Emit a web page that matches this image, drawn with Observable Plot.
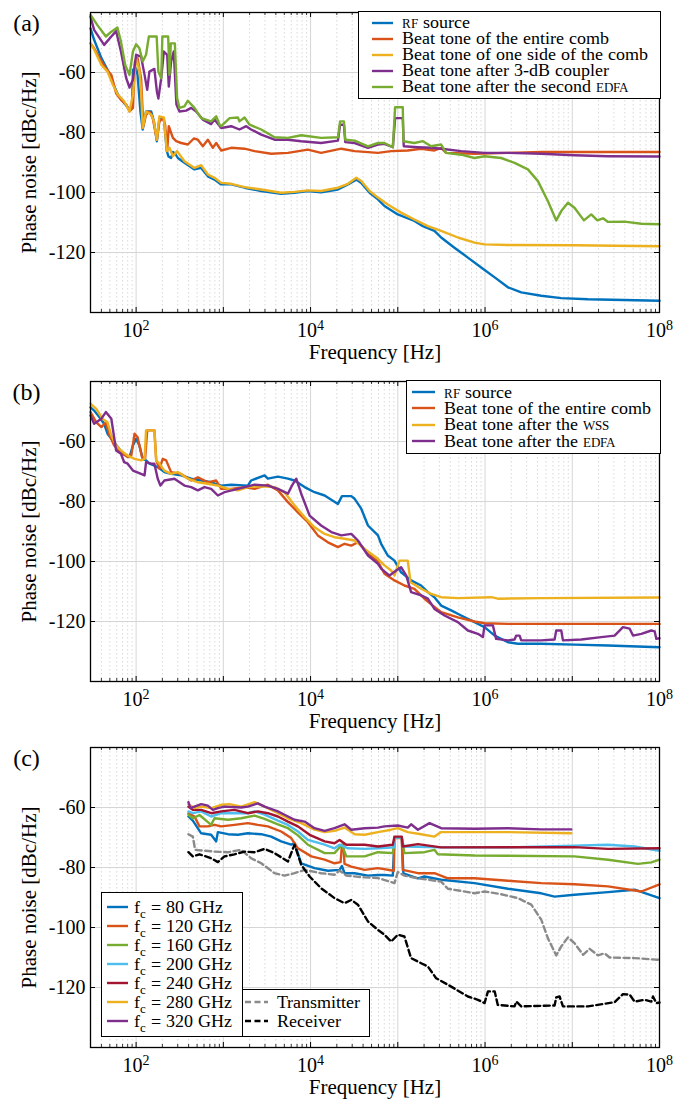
<!DOCTYPE html>
<html><head><meta charset="utf-8">
<script src="https://cdn.jsdelivr.net/npm/d3@7"></script>
<script src="https://cdn.jsdelivr.net/npm/@observablehq/plot@0.6"></script>
<style>
@font-face{font-family:"TightSerif";src:local("Liberation Serif"),local("LiberationSerif");ascent-override:72%;descent-override:16%;line-gap-override:0%;}
body{margin:0;background:#fff;}
#root{position:relative;width:693px;height:1100px;background:#fff;font-family:"Liberation Serif","Times New Roman",serif;overflow:hidden;}
.panel{position:absolute;left:0;}
.legend{position:absolute;background:#fff;border:1.2px solid #000;box-sizing:border-box;}
.lrow{position:absolute;white-space:nowrap;font-size:18px;line-height:15px;color:#000;font-family:"TightSerif","Liberation Serif","Times New Roman",serif;}
.sc{font-variant:small-caps;}
.sub{font-size:13px;position:relative;top:5px;}
</style></head><body><div id="root"></div>
<script>
// ---------- axis / tick values ----------
const X_DOMAIN = [30, 1e8];
const Y_DOMAIN = [-140, -40];
const X_TICKS = [1e2, 1e4, 1e6, 1e8];
const Y_TICKS = [-120, -100, -80, -60];
const FONT = "'Liberation Serif', 'Times New Roman', serif";

// ---------- colors ----------
const C_BLUE = "#0072BD", C_ORANGE = "#D95319", C_YELLOW = "#EDB120", C_PURPLE = "#7E2F8E",
      C_GREEN = "#77AC30", C_CYAN = "#4DBEEE", C_DRED = "#A2142F", C_GRAY = "#8a8a8a", C_BLACK = "#000000";

// ---------- panel (a) data: [frequency Hz, phase noise dBc/Hz] ----------
const aRF = [[30,-45.3],[33,-49.1],[40,-55.2],[47,-59.1],[54,-63.5],[62,-67.4],[73,-70.2],[84,-72.4],[90,-71.8],[92,-59.1],[100,-58.6],[104,-60.8],[112,-73],[119,-79],[130,-73],[149,-73],[160,-76.3],[173,-82.9],[185,-75.2],[208,-75.2],[225,-86.2],[235,-88],[252,-88.5],[264,-86.5],[280,-87],[301,-88.5],[358,-90.1],[467,-92.3],[557,-91.8],[664,-94.6],[792,-95.7],[945,-97.3],[1230,-97.3],[1750,-98.4],[2720,-99.5],[4600,-100.4],[6550,-100.1],[9310,-99.5],[13200,-99.9],[20600,-99],[26800,-97.3],[33400,-95.7],[38100,-96.8],[47500,-100.1],[59200,-102.3],[70300,-104.5],[1e5,-107.3],[155000,-109.5],[194000,-111.2],[263000,-112.8],[314000,-115],[446000,-118.4],[636000,-121.7],[904000,-125],[1.29e6,-128.3],[1.83e6,-131.6],[2.6e6,-133.3],[4.41e6,-134.4],[7.48e6,-135.2],[1.51e7,-135.6],[1e8,-136.1]];
const aEntire = [[30,-50.3],[33,-51.9],[38,-55.2],[45,-58.6],[52,-60.8],[59,-66.9],[67,-69.1],[77,-70.7],[84,-73],[92,-71.8],[97,-56.3],[104,-55.2],[114,-61.9],[121,-77.9],[130,-74.1],[142,-73],[155,-75.2],[173,-82.4],[185,-76.3],[202,-75.2],[215,-77.4],[227,-86.2],[237,-77.9],[264,-81.8],[288,-82.9],[328,-83.5],[392,-84],[459,-82],[510,-82.4],[582,-84.6],[664,-82.4],[758,-85.1],[828,-83.5],[945,-86],[1230,-85.1],[1750,-85.4],[2280,-86.2],[3540,-87.1],[5500,-86.8],[9310,-85.7],[13200,-86.8],[22500,-85.4],[32000,-86.2],[59200,-86.8],[83900,-86.2],[130000,-86],[185000,-85.4],[263000,-86],[314000,-85.1],[358000,-86.8],[758000,-87.1],[1.83e6,-86.8],[4.41e6,-86.5],[1e8,-86.5]];
const aOneSide = [[30,-50.3],[33,-52.3],[40,-57.5],[47,-59.7],[54,-64],[62,-67.4],[73,-69.6],[84,-73],[92,-67.4],[100,-55.2],[109,-59],[114,-66],[119,-78.5],[130,-73],[149,-74],[160,-76.3],[173,-82.4],[185,-74.6],[208,-75],[225,-86.2],[241,-85.1],[264,-87.9],[295,-86.2],[358,-89.6],[467,-91.8],[557,-90.9],[664,-94],[792,-95.1],[945,-96.8],[1230,-97.1],[1750,-98.2],[2720,-99],[4600,-100.1],[6550,-99.8],[9310,-99.3],[13200,-99.5],[20600,-98.4],[26800,-97.1],[33400,-95.1],[38100,-96.2],[47500,-99.5],[59200,-101.7],[76700,-104],[109000,-106.7],[155000,-109],[221000,-111.2],[314000,-112.8],[488000,-115],[758000,-116.7],[987000,-117.3],[1.83e6,-117.5],[1.06e7,-117.6],[1e8,-117.9]];
const aCoupler = [[30,-41.4],[33,-45.8],[43,-50.8],[52,-48],[59,-46.2],[67,-53],[77,-61.9],[84,-65],[92,-62.4],[100,-54.1],[114,-54.7],[125,-60.8],[134,-65.8],[142,-59.7],[162,-58.8],[173,-66.3],[180,-68.7],[194,-61.9],[208,-53],[227,-54.1],[237,-64.7],[252,-56.3],[270,-53],[290,-70.7],[314,-73],[375,-72.7],[428,-71.8],[488,-73],[582,-75.7],[725,-77.2],[792,-75.7],[945,-78.5],[1230,-77.9],[1530,-79],[1830,-77.9],[2080,-79],[2720,-80.7],[3860,-82.4],[5500,-82.4],[7810,-82.9],[13200,-83.5],[20600,-82.7],[21800,-77.4],[24100,-77.4],[25000,-83.2],[32000,-83.5],[45500,-85.1],[59200,-84],[70300,-83.8],[87700,-84.9],[93200,-75.2],[114000,-75.2],[117000,-84.6],[170000,-84.9],[241000,-85.1],[314000,-85.4],[533000,-86.2],[987000,-86.8],[1.83e6,-86.8],[4.41e6,-87.1],[1.06e7,-87.6],[2.57e7,-87.9],[1e8,-88]];
const aSecondEdfa = [[30,-40.8],[36,-44.2],[45,-48],[52,-46.4],[61,-45],[67,-49.7],[75,-57.5],[84,-60.8],[92,-53],[100,-50.6],[109,-51.9],[119,-56.3],[130,-54.1],[140,-48],[172,-48],[180,-59.7],[194,-61.9],[200,-48],[233,-48],[241,-60.8],[250,-50.3],[278,-50.3],[295,-68.5],[314,-71.8],[358,-71.3],[392,-69.4],[467,-71.8],[557,-75.2],[725,-76.3],[828,-74.6],[904,-77.4],[945,-77.9],[1180,-75.2],[1470,-75],[1530,-76.3],[1750,-75],[2000,-77.4],[2720,-79],[3860,-81.6],[5500,-81.8],[7810,-80.9],[13200,-81.8],[20600,-81.6],[21800,-76.3],[24100,-76.3],[25000,-82.4],[32000,-82.7],[45500,-84.6],[59200,-83.5],[70300,-83.5],[87700,-84.9],[93200,-71.6],[114000,-71.6],[116000,-82.9],[155000,-83.5],[194000,-82.9],[241000,-84.6],[314000,-84],[358000,-86.8],[533000,-87.4],[758000,-88.5],[987000,-87.9],[1.53e6,-88.5],[2.18e6,-90.1],[3.1e6,-92.3],[4.04e6,-96.2],[5.26e6,-102.9],[6.55e6,-109.3],[7.48e6,-106.2],[8.92e6,-103.4],[1.06e7,-105.1],[1.36e7,-109.3],[1.65e7,-107.3],[1.94e7,-109.3],[2.25e7,-108.6],[2.57e7,-109.8],[3.98e7,-109.7],[6.19e7,-110.4],[1e8,-110.6]];

// ---------- panel (b) data ----------
const bRF = [[30,-48.6],[33,-49.7],[38,-51.9],[43,-54.1],[47,-57.4],[54,-59.7],[62,-61.9],[70,-64.1],[84,-65.2],[92,-61.3],[100,-59.1],[109,-61.3],[119,-65.8],[130,-66.3],[142,-67.4],[162,-68],[185,-68.9],[211,-70.2],[252,-70.8],[328,-71.3],[428,-72.4],[557,-73],[725,-73.6],[945,-74.7],[1230,-74.4],[1910,-74.7],[2080,-73],[2970,-71.3],[3240,-72.4],[4220,-71.7],[5500,-72.4],[6550,-73],[8540,-75.2],[11100,-76.9],[14500,-78],[20600,-80.8],[22900,-78.2],[29300,-78.2],[32000,-79.1],[38100,-82.4],[45500,-88],[59200,-91.3],[64400,-94.1],[76700,-98],[91600,-99.7],[109000,-103.6],[142000,-106.3],[185000,-108],[221000,-110.2],[263000,-111.9],[314000,-114.7],[409000,-116.3],[533000,-118],[758000,-120.2],[987000,-121.9],[1.29e6,-124.7],[1.83e6,-126.9],[2.38e6,-127.4],[4.41e6,-127.4],[1.06e7,-127.7],[2.57e7,-128],[1e8,-128.6]];
const bEntire = [[30,-50.2],[35,-53.6],[40,-55.2],[45,-53.6],[49,-57.4],[56,-61.3],[67,-63.6],[80,-65.2],[88,-64.7],[96,-57.4],[104,-58.6],[117,-65.2],[127,-65.6],[134,-56.3],[162,-56.3],[170,-66.3],[185,-69.1],[202,-65.8],[221,-66.3],[252,-70.2],[328,-70.8],[428,-73],[510,-71.9],[664,-73.6],[828,-73],[945,-75.8],[1230,-75.8],[1750,-75.2],[2280,-75.8],[3240,-74.4],[4220,-76.3],[5500,-80.2],[7160,-83.6],[9310,-86.9],[12100,-91.3],[15800,-93.6],[20600,-95.2],[24500,-94.1],[29300,-94.7],[34900,-93.6],[45500,-97.4],[59200,-100],[70300,-104.1],[91600,-106.3],[119000,-108],[155000,-109.1],[202000,-112.4],[252000,-114.7],[314000,-116.9],[488000,-118.6],[758000,-120],[987000,-120.6],[1.83e6,-120.8],[1.06e7,-120.8],[1e8,-120.8]];
const bWss = [[30,-47.4],[35,-49.1],[41,-52.4],[47,-53.6],[52,-58],[59,-61.3],[67,-63],[80,-64.7],[96,-65.8],[114,-66.3],[125,-65.8],[130,-56.3],[162,-56.3],[170,-66.3],[185,-67.4],[211,-69.7],[252,-70.8],[301,-70.2],[392,-72.4],[510,-73.6],[664,-74.1],[865,-74.7],[1130,-75.8],[1470,-76.3],[1910,-75.2],[2720,-74.9],[3860,-75.2],[5030,-76.9],[6550,-81.3],[8540,-85.2],[11100,-88.6],[14500,-90.8],[18800,-91.9],[24500,-92.4],[32000,-93],[41700,-95.8],[59200,-99.1],[70300,-101.3],[83900,-103],[91600,-104.7],[104500,-99.7],[130000,-99.7],[140000,-106.9],[185000,-109.1],[241000,-110.8],[314000,-111.9],[488000,-112.2],[1.18e6,-111.9],[1.4e6,-112.4],[4.41e6,-112.2],[1e8,-112]];
const bEdfa = [[30,-51.3],[33,-54.1],[40,-52.4],[45,-50.2],[52,-52.4],[59,-63],[67,-64.1],[73,-66.9],[80,-67.4],[92,-69.7],[114,-70.8],[125,-71.3],[130,-66.9],[149,-67.4],[162,-67.4],[177,-72.4],[190,-74.7],[211,-73],[275,-72.4],[358,-74.7],[428,-75.2],[510,-76.3],[608,-75.2],[725,-75.8],[865,-78],[1030,-76.9],[1470,-75.8],[2280,-74.4],[3240,-74.7],[4220,-75.8],[5500,-77.4],[6110,-74.7],[6850,-72.4],[7810,-77.4],[9750,-84.7],[13200,-88],[17300,-90.2],[22500,-91.3],[29300,-90.8],[34900,-93],[45500,-98],[59200,-100.8],[64400,-102.4],[80200,-104.7],[95700,-103],[109000,-101.9],[125000,-104.7],[142000,-110.2],[185000,-111.3],[221000,-112.4],[263000,-115.8],[343000,-118],[488000,-120.2],[636000,-123],[828000,-124.1],[945000,-125.2],[987000,-121.3],[1.23e6,-121.3],[1.34e6,-125.8],[1.83e6,-126.3],[2.18e6,-126],[2.28e6,-124.7],[2.49e6,-124.7],[2.6e6,-126.3],[4.41e6,-126.3],[6.27e6,-126],[6.55e6,-123],[7.48e6,-123],[7.82e6,-126.3],[1.27e7,-126],[2.15e7,-125.2],[3.06e7,-124.7],[3.81e7,-121.9],[4.55e7,-122.4],[4.97e7,-124.7],[6.19e7,-124.1],[8.06e7,-123],[8.81e7,-123.3],[9.2e7,-125.8],[1e8,-125.6]];

// ---------- panel (c) data ----------
const c80 = [[398,-63],[447,-64.4],[557,-68.6],[725,-69.1],[828,-71.3],[865,-68.2],[1130,-68.9],[1470,-69.1],[1910,-68.6],[2720,-68.9],[3540,-69.7],[4600,-71.3],[6000,-72.4],[6550,-71.9],[7810,-78.6],[11100,-80.2],[15800,-81.1],[21500,-80.8],[22900,-79.5],[24500,-81.9],[32000,-81.9],[45500,-82.7],[59200,-82.5],[70300,-82.5],[87700,-82.7],[91600,-70],[111000,-70],[116000,-82],[170000,-83.6],[202000,-83],[314000,-84.1],[758000,-85.2],[1.83e6,-87.1],[4.41e6,-88.6],[6.27e6,-89.7],[1.06e7,-89.1],[2.57e7,-88.2],[5.19e7,-87.4],[1e8,-90.2]];
const c120 = [[398,-61.9],[467,-63],[533,-66.3],[664,-66.3],[792,-65.8],[945,-66.3],[1340,-65.8],[1910,-65.2],[2490,-65.8],[3240,-66.3],[4600,-68],[6000,-70.2],[7160,-73.6],[10200,-76.3],[14500,-77.4],[18800,-78.6],[22100,-78.2],[22900,-72.4],[23800,-72.4],[24500,-78.8],[29300,-79.7],[41700,-80.8],[59200,-80.2],[90000,-81.1],[91600,-70.2],[111000,-70.2],[114000,-80.8],[170000,-81.9],[263000,-81.9],[375000,-83.6],[758000,-83.6],[1.83e6,-84.4],[4.41e6,-85.2],[1.06e7,-85.6],[2.57e7,-86.3],[6.19e7,-88],[1e8,-85.6]];
const c160 = [[398,-62.4],[447,-63.6],[533,-62.5],[725,-65.8],[792,-63.6],[1130,-64.1],[1600,-63.6],[2280,-62.7],[2970,-63.8],[4220,-65.6],[5500,-66.9],[7160,-69.3],[9310,-72.4],[14500,-75.2],[18800,-75.2],[22900,-72.4],[25700,-76.3],[41700,-76.3],[59200,-74.9],[87700,-75.2],[91600,-70],[111000,-70],[119000,-75.2],[202000,-74.9],[263000,-74.1],[288000,-75.6],[758000,-76],[1.83e6,-76.1],[1.06e7,-76.3],[2.57e7,-77.4],[5.66e7,-78.8],[8.06e7,-78.3],[1e8,-77.4]];
const c200 = [[398,-61.3],[447,-61.9],[557,-61.3],[725,-63],[945,-61.9],[1340,-61.9],[1910,-61.9],[2280,-61.3],[2970,-62.4],[4220,-64.4],[5500,-65.8],[7160,-68],[9310,-70.8],[14500,-72.4],[18800,-73.6],[21500,-72.4],[26800,-73.6],[41700,-73.8],[59200,-73.6],[91600,-73.3],[93200,-70],[111000,-70],[117000,-73],[314000,-73.3],[1.83e6,-73.3],[1.06e7,-72.7],[2.57e7,-72.4],[5.19e7,-73],[1e8,-74.4]];
const c240 = [[398,-59.7],[447,-60.8],[557,-60.8],[725,-61.9],[945,-61.3],[1340,-60.8],[1910,-61.9],[2490,-61.3],[3240,-61.9],[4220,-63],[5500,-64.7],[7160,-66.3],[9750,-69.1],[14500,-71.3],[18800,-71.9],[21500,-70.8],[25700,-72.4],[41700,-72.4],[59200,-73],[87700,-72.4],[91600,-69.7],[111000,-69.7],[114000,-73],[170000,-72.2],[314000,-73.3],[1.06e7,-73.2],[2.57e7,-73.8],[1e8,-73.6]];
const c280 = [[398,-58.9],[467,-60.2],[557,-59.7],[725,-60.2],[945,-59.1],[1180,-58.9],[1600,-59.7],[2280,-58.2],[2970,-59.7],[3860,-61.3],[5500,-63.6],[7810,-65.2],[11100,-67.4],[14500,-68.2],[18800,-67.8],[24500,-66.7],[32000,-68.9],[41700,-69.1],[59200,-68.2],[83900,-67.4],[1e5,-66.9],[130000,-68.2],[185000,-68.9],[263000,-69.7],[314000,-68.2],[758000,-68.2],[1.83e6,-68.2],[9.75e6,-68.6]];
const c320 = [[398,-58.2],[420,-60.2],[467,-59.7],[557,-58.9],[664,-59.4],[758,-60.8],[865,-60.2],[1030,-59.7],[1600,-60],[1910,-59.7],[2490,-58.6],[2970,-59.7],[4220,-61.3],[5030,-62.4],[6550,-64.1],[8540,-64.7],[11100,-66.9],[14500,-67.8],[18800,-66.9],[24500,-65.6],[29300,-67.4],[41700,-66.9],[59200,-66.7],[70300,-66.3],[1e5,-66],[130000,-66.7],[142000,-65.6],[170000,-67.4],[231000,-65.2],[314000,-66.9],[758000,-67.1],[1.83e6,-66.9],[4.41e6,-67.3],[9.75e6,-67.3]];
const cTransmitter = [[398,-68.9],[447,-69.7],[475,-74.1],[608,-74.4],[792,-74.7],[1130,-74.9],[1600,-74.1],[2080,-76.9],[2720,-78.6],[3860,-81.9],[5030,-82.7],[6550,-81.9],[8540,-80.8],[13200,-81.9],[18800,-82.4],[21500,-81],[25700,-82.7],[41700,-83.3],[59200,-83.5],[91600,-85.2],[1e5,-81.5],[119000,-82.7],[170000,-83.6],[314000,-84.7],[375000,-87.1],[533000,-87.8],[758000,-88.6],[987000,-88],[1.53e6,-88.9],[2.38e6,-90.2],[3.39e6,-92.4],[4.41e6,-97.4],[5.26e6,-103.6],[6.55e6,-109.3],[7.48e6,-106.3],[8.92e6,-103.3],[1.06e7,-105.2],[1.33e7,-109.1],[1.58e7,-107.1],[1.97e7,-109.3],[2.35e7,-108.6],[2.68e7,-110],[5.19e7,-110.2],[1e8,-110.8]];
const cReceiver = [[398,-74.9],[447,-76.3],[533,-75.6],[725,-76.9],[865,-78.2],[1030,-76.3],[1340,-75.6],[1750,-74.7],[2280,-74.9],[2970,-73.8],[3860,-75.2],[5500,-78],[6550,-72.4],[7810,-79.1],[9750,-83],[13200,-86.9],[18800,-90.2],[24500,-91.9],[29300,-90.8],[34900,-92.4],[45500,-98],[59200,-100.8],[70300,-102.4],[83900,-104.7],[1e5,-102.4],[119000,-103],[142000,-110.2],[185000,-111.9],[221000,-113],[275000,-116.9],[409000,-119.7],[636000,-123],[828000,-124.1],[987000,-125.2],[1.08e6,-121.3],[1.29e6,-121.3],[1.4e6,-125.8],[2.18e6,-126.3],[2.28e6,-124.7],[2.6e6,-126.3],[6.27e6,-126],[6.55e6,-123.3],[7.16e6,-123],[7.82e6,-126.3],[1.51e7,-126.3],[3.06e7,-124.9],[3.81e7,-122.2],[4.55e7,-122.4],[5.19e7,-124.7],[6.76e7,-124.1],[8.06e7,-124.7],[8.42e7,-123],[9.2e7,-125.2],[1e8,-125]];

// ---------- legend labels ----------
const labelsA = ["<span class='sc'>rf</span> source", "Beat tone of the entire comb", "Beat tone of one side of the comb", "Beat tone after 3-dB coupler", "Beat tone after the second <span class='sc'>edfa</span>"];
const labelsB = ["<span class='sc'>rf</span> source", "Beat tone of the entire comb", "Beat tone after the <span class='sc'>wss</span>", "Beat tone after the <span class='sc'>edfa</span>"];
const carriersC = [80, 120, 160, 200, 240, 280, 320];
const labelsC2 = ["Transmitter", "Receiver"];

const seriesA = [
  {data: aRF, color: C_BLUE, label: labelsA[0]},
  {data: aEntire, color: C_ORANGE, label: labelsA[1]},
  {data: aOneSide, color: C_YELLOW, label: labelsA[2]},
  {data: aCoupler, color: C_PURPLE, label: labelsA[3]},
  {data: aSecondEdfa, color: C_GREEN, label: labelsA[4]}
];
const seriesB = [
  {data: bRF, color: C_BLUE, label: labelsB[0]},
  {data: bEntire, color: C_ORANGE, label: labelsB[1]},
  {data: bWss, color: C_YELLOW, label: labelsB[2]},
  {data: bEdfa, color: C_PURPLE, label: labelsB[3]}
];
const cData = [c80, c120, c160, c200, c240, c280, c320];
const cColors = [C_BLUE, C_ORANGE, C_GREEN, C_CYAN, C_DRED, C_YELLOW, C_PURPLE];
const seriesC = cData.map((d, i) => ({data: d, color: cColors[i], label: `f<span class="sub">c</span> = ${carriersC[i]} GHz`}));
const seriesC2 = [
  {data: cTransmitter, color: C_GRAY, dash: "6,3.5", label: labelsC2[0]},
  {data: cReceiver, color: C_BLACK, dash: "6,3.5", label: labelsC2[1]}
];

// ---------- grid / tick positions ----------
const minorTicks = [];
for (let k = 1; k <= 7; k++) for (let m = 2; m <= 9; m++) { const v = m * 10 ** k; if (v >= X_DOMAIN[0] && v < X_DOMAIN[1]) minorTicks.push(v); }
const decadeTicks = [1e2, 1e3, 1e4, 1e5, 1e6, 1e7];

const root = document.getElementById("root");
const W = 693, ML = 90, MR = 34, MT = 12, FH = 300;
const FW = W - ML - MR;

function renderPanel(series, panelLabel, top, height) {
  const marks = [
    Plot.ruleX(minorTicks, {stroke: "#cfcfcf", strokeWidth: 0.8, strokeDasharray: "1.5,2.5"}),
    Plot.ruleX(decadeTicks, {stroke: "#d6d6d6", strokeWidth: 1}),
    Plot.ruleY(Y_TICKS, {stroke: "#d6d6d6", strokeWidth: 1}),
    ...series.map(s => Plot.line(s.data, {x: d => d[0], y: d => d[1], stroke: s.color, strokeWidth: 2.4, strokeDasharray: s.dash})),
    Plot.ruleX(minorTicks, {insetTop: FH - 3, stroke: "#000", strokeWidth: 0.8}),
    Plot.ruleX(minorTicks, {insetBottom: FH - 3, stroke: "#000", strokeWidth: 0.8}),
    Plot.ruleX(decadeTicks, {insetTop: FH - 5, stroke: "#000", strokeWidth: 1}),
    Plot.ruleX(decadeTicks, {insetBottom: FH - 5, stroke: "#000", strokeWidth: 1}),
    Plot.ruleY(Y_TICKS, {insetRight: FW - 5, stroke: "#000", strokeWidth: 1}),
    Plot.ruleY(Y_TICKS, {insetLeft: FW - 5, stroke: "#000", strokeWidth: 1}),
    Plot.frame({stroke: "#000", strokeWidth: 1.3}),
    Plot.text([panelLabel], {text: d => d, frameAnchor: "top-left", dx: -64, dy: 11, fontSize: 24, textAnchor: "middle", lineAnchor: "middle"}),
    Plot.text(["Phase noise [dBc/Hz]"], {text: d => d, frameAnchor: "left", dx: -61, rotate: -90, fontSize: 21, textAnchor: "middle", lineAnchor: "middle"}),
    Plot.text(["Frequency [Hz]"], {text: d => d, frameAnchor: "bottom", dy: 40, fontSize: 21, textAnchor: "middle", lineAnchor: "middle"})
  ];
  const svg = Plot.plot({
    width: W, height,
    marginLeft: ML, marginRight: MR, marginTop: MT, marginBottom: height - MT - FH,
    style: {fontFamily: FONT, fontSize: "20px", color: "#000", background: "transparent", overflow: "visible"},
    x: {type: "log", domain: X_DOMAIN, ticks: X_TICKS, tickSize: 0, tickPadding: 10, tickFormat: d => "10|" + Math.round(Math.log10(d)), label: null},
    y: {domain: Y_DOMAIN, ticks: Y_TICKS, tickSize: 0, tickPadding: 5, tickFormat: d => String(d), label: null},
    marks
  });
  d3.select(svg).selectAll('g[aria-label="x-axis tick label"] text').each(function () {
    const t = this.textContent; const parts = t.split("|");
    if (parts.length === 2) {
      const s = d3.select(this); s.text(parts[0]);
      s.append("tspan").attr("dy", "-0.48em").attr("font-size", "14px").text(parts[1]);
    }
  });
  const wrap = document.createElement("div");
  wrap.className = "panel"; wrap.style.top = top + "px";
  wrap.appendChild(svg);
  root.appendChild(wrap);
}

function addLegend(box, rows, o) {
  const b = document.createElement("div"); b.className = "legend";
  Object.assign(b.style, {left: box.left + "px", top: box.top + "px", width: box.width + "px", height: box.height + "px"});
  root.appendChild(b);
  rows.forEach((r, i) => {
    const cy = o.y0 + i * o.dy;
    const ns = "http://www.w3.org/2000/svg";
    const s = document.createElementNS(ns, "svg");
    s.setAttribute("width", o.sw); s.setAttribute("height", 6);
    s.style.position = "absolute"; s.style.left = o.sx + "px"; s.style.top = (cy - 3) + "px";
    const ln = document.createElementNS(ns, "line");
    ln.setAttribute("x1", 0); ln.setAttribute("x2", o.sw); ln.setAttribute("y1", 3); ln.setAttribute("y2", 3);
    ln.setAttribute("stroke", r.color); ln.setAttribute("stroke-width", 2.4);
    if (r.dash) ln.setAttribute("stroke-dasharray", r.dash);
    s.appendChild(ln); root.appendChild(s);
    const t = document.createElement("div"); t.className = "lrow";
    t.style.left = o.tx + "px"; t.style.top = (cy - 6.5) + "px";
    t.innerHTML = r.label; root.appendChild(t);
  });
}

renderPanel(seriesA, "(a)", 0, 367);
renderPanel(seriesB, "(b)", 369, 367);
renderPanel([...seriesC, ...seriesC2], "(c)", 735, 365);

addLegend({left: 358, top: 11, width: 303, height: 88}, seriesA, {y0: 22.5, dy: 16.1, sx: 372, sw: 21, tx: 401.5});
addLegend({left: 406, top: 380, width: 255, height: 74}, seriesB, {y0: 392, dy: 16.4, sx: 412, sw: 23, tx: 443.5});
addLegend({left: 101, top: 892, width: 142, height: 145}, seriesC, {y0: 907.3, dy: 19.0, sx: 106.5, sw: 21.5, tx: 133.5});
addLegend({left: 242, top: 989, width: 128, height: 48}, seriesC2, {y0: 1002.3, dy: 19.0, sx: 245, sw: 23, tx: 276.5});
</script></body></html>
